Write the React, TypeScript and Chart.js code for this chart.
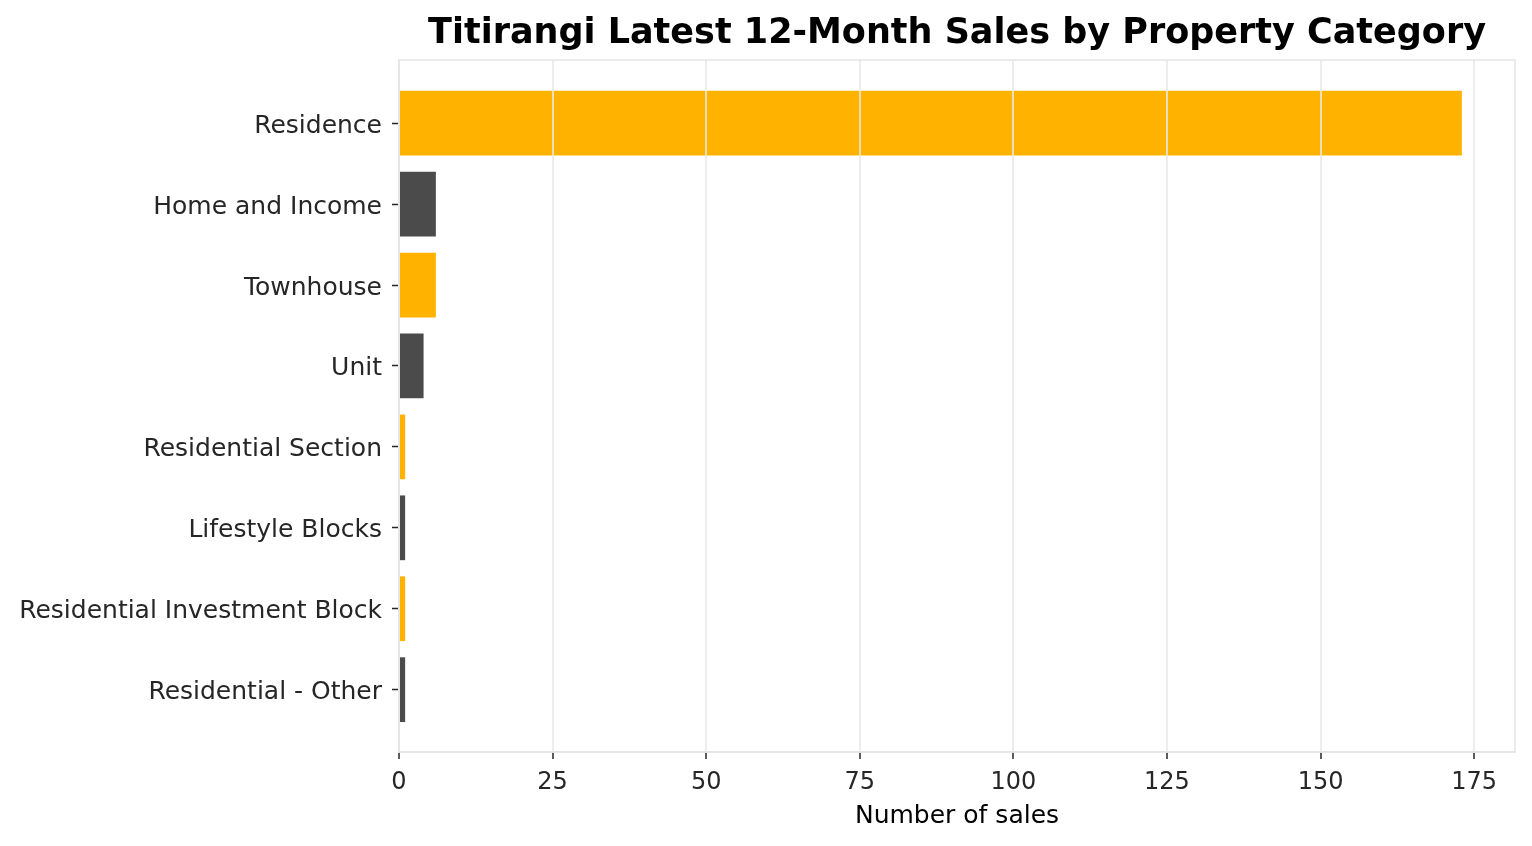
import React, { useEffect, useRef } from "react";
import { Chart, registerables } from "chart.js";

Chart.register(...registerables);

const title = "Titirangi Latest 12-Month Sales by Property Category";
const categories = [
  "Residence",
  "Home and Income",
  "Townhouse",
  "Unit",
  "Residential Section",
  "Lifestyle Blocks",
  "Residential Investment Block",
  "Residential - Other",
];
const sales = [173, 6, 6, 4, 1, 1, 1, 1];
const xTicks = [0, 25, 50, 75, 100, 125, 150, 175];
const xLabel = "Number of sales";

const ORANGE = "#FFB300";
const GRAY = "#4B4B4B";
const FRAME = "#E5E5E5";
const FONT = "'DejaVu Sans', sans-serif";

export default function App() {
  const ref = useRef<HTMLCanvasElement | null>(null);
  useEffect(() => {
    if (!ref.current) return;
    const frameAndTitle = {
      id: "frameAndTitle",
      afterDraw(chart: any) {
        const { ctx, chartArea } = chart;
        ctx.save();
        ctx.strokeStyle = FRAME;
        ctx.lineWidth = 1.5;
        ctx.strokeRect(chartArea.left, chartArea.top, chartArea.right - chartArea.left, chartArea.bottom - chartArea.top);
        ctx.fillStyle = "#000";
        ctx.font = `bold 35px ${FONT}`;
        ctx.textAlign = "center";
        ctx.textBaseline = "middle";
        ctx.fillText(title, (chartArea.left + chartArea.right) / 2, 34);
        ctx.restore();
      },
    };
    const chart = new Chart(ref.current, {
      type: "bar",
      data: {
        datasets: [
          {
            data: categories.map((c, i) => ({ x: sales[i], y: i })) as any,
            backgroundColor: categories.map((c, i) => (i % 2 === 0 ? ORANGE : GRAY)),
            borderWidth: 0,
            barPercentage: 0.8,
            categoryPercentage: 1,
          },
        ],
      },
      options: {
        indexAxis: "y",
        animation: false,
        responsive: false,
        maintainAspectRatio: false,
        layout: { padding: { top: 60, right: 17, left: 0, bottom: 15 } },
        plugins: { legend: { display: false }, tooltip: { enabled: false }, title: { display: false } },
        scales: {
          x: {
            type: "linear",
            min: 0,
            max: 181.65,
            bounds: "data",
            afterBuildTicks: (s: any) => {
              s.ticks = xTicks.map((v) => ({ value: v }));
            },
            afterFit: (s: any) => {
              s.height = 831 - 752;
            },
            grid: {
              z: 1,
              color: "rgba(232,232,232,0.8)",
              lineWidth: 2,
              drawTicks: true,
              tickLength: 7,
              tickColor: "#262626",
              tickWidth: 1.5,
            },
            border: { display: true, color: FRAME, width: 1.5, z: 1 },
            ticks: {
              color: "#262626",
              font: { family: FONT, size: 24 },
              padding: 9,
              maxRotation: 0,
            },
            title: {
              display: true,
              text: xLabel,
              color: "#000",
              font: { family: FONT, size: 25 },
              padding: { top: 0, bottom: 0 },
            },
          },
          y: {
            type: "linear",
            reverse: true,
            offset: false,
            bounds: "data",
            min: -0.78,
            max: 7.77,
            afterBuildTicks: (s: any) => {
              s.ticks = categories.map((c, i) => ({ value: i }));
            },
            afterFit: (s: any) => {
              s.width = 399;
            },
            grid: {
              offset: false,
              drawOnChartArea: false,
              drawTicks: true,
              tickLength: 7,
              tickColor: "#262626",
              tickWidth: 1.5,
            },
            border: { display: true, color: FRAME, width: 1.5 },
            ticks: {
              color: "#262626",
              font: { family: FONT, size: 25 },
              padding: 10,
              labelOffset: 3,
              callback: (v: any) => categories[v] ?? "",
            },
          },
        },
      },
      plugins: [frameAndTitle],
    });
    return () => chart.destroy();
  }, []);
  return (
    <div style={{ position: "absolute", left: 0, top: 0, width: 1532, height: 846, background: "#fff" }}>
      <canvas ref={ref} width={1532} height={846} style={{ width: 1532, height: 846 }} />
    </div>
  );
}
